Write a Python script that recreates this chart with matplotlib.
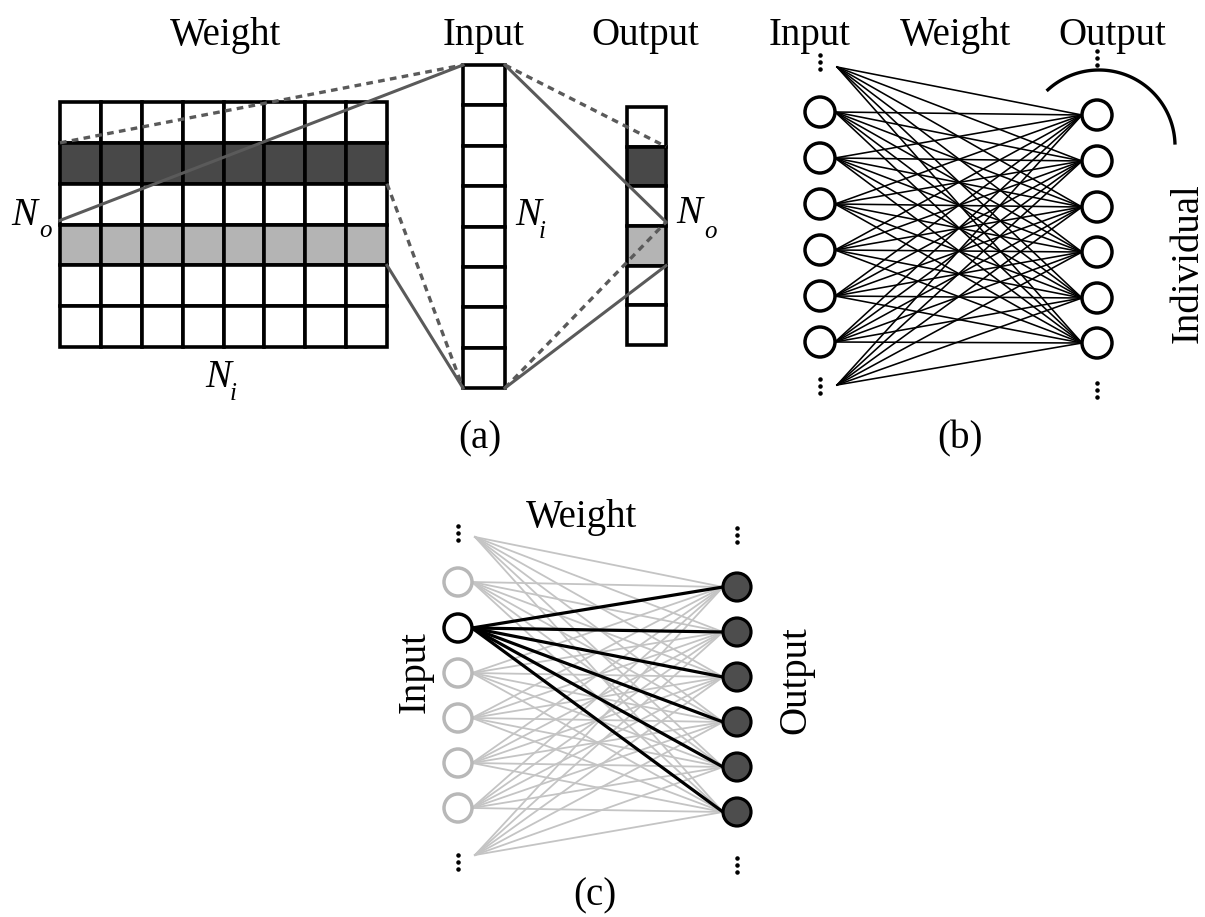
import numpy as np
import matplotlib
matplotlib.use("Agg")
import matplotlib.pyplot as plt
from matplotlib.patches import Rectangle, Circle

# ---------------- data ----------------
# panel (a)
weight_rows = 6
weight_cols = 8
input_cells = 8
output_cells = 6
dark_row = 1
light_row = 3
# panel (b) node centres (pixel rows)
b_input_y = [112, 158, 204, 250, 296, 342]
b_output_y = [115, 161, 207, 252, 298, 343]
b_extra_y = [67, 385]
# panel (c)
c_input_y = [582, 628, 673, 718, 763, 808]
c_output_y = [587, 632, 677, 722, 767, 812]
c_extra_y = [537, 855]
c_active_input = 1

titles_a = ["Weight", "Input", "Output"]
titles_b = ["Input", "Weight", "Output"]
panel_labels = ["(a)", "(b)", "(c)"]

DARK = "#484848"
LIGHT = "#b4b4b4"
LINEG = "#5a5a5a"
FAINT = "#c4c4c4"
SERIF = ["Liberation Serif", "DejaVu Serif"]

fig = plt.figure(figsize=(12.05, 9.17), dpi=100)
ax = fig.add_axes([0, 0, 1, 1])
ax.set_xlim(0, 1205)
ax.set_ylim(917, 0)
ax.axis("off")


def txt(x, y, s, size=28, **kw):
    ax.text(x, y, s, fontsize=size, family=SERIF, **kw)


def vdots(x, y):
    ax.scatter([x, x, x], [y - 7, y, y + 7], s=5, color="black", zorder=5)


# ---------------- panel (a) ----------------
wx0, wx1, wy0, wy1 = 60, 387, 102, 347
cw = (wx1 - wx0) / weight_cols
rh = (wy1 - wy0) / weight_rows
for r in range(weight_rows):
    fc = DARK if r == dark_row else (LIGHT if r == light_row else "white")
    for c in range(weight_cols):
        ax.add_patch(Rectangle((wx0 + c * cw, wy0 + r * rh), cw, rh,
                               facecolor=fc, edgecolor="black", lw=2.6, zorder=2))

ix0, ix1, iy0, iy1 = 463, 505, 65, 388
ih = (iy1 - iy0) / input_cells
for r in range(input_cells):
    ax.add_patch(Rectangle((ix0, iy0 + r * ih), ix1 - ix0, ih,
                           facecolor="white", edgecolor="black", lw=2.6, zorder=2))

ox0, ox1, oy0, oy1 = 627, 666, 107, 345
oh = (oy1 - oy0) / output_cells
for r in range(output_cells):
    fc = DARK if r == dark_row else (LIGHT if r == light_row else "white")
    ax.add_patch(Rectangle((ox0, oy0 + r * oh), ox1 - ox0, oh,
                           facecolor=fc, edgecolor="black", lw=2.6, zorder=2))

dash = (0, (2.0, 1.6))
# weight -> input
ax.plot([wx0, ix0], [wy0 + rh * dark_row, iy0], color=LINEG, lw=2.4, ls=dash, zorder=3)
ax.plot([wx0, ix0], [wy0 + rh * (dark_row + 1.9), iy0], color=LINEG, lw=2.2, zorder=3)
ax.plot([wx1, ix0], [wy0 + rh * (dark_row + 1), iy1], color=LINEG, lw=2.4, ls=dash, zorder=3)
ax.plot([wx1, ix0], [wy0 + rh * (light_row + 1), iy1], color=LINEG, lw=2.2, zorder=3)
# input -> output
ax.plot([ix1, ox1], [iy0, oy0 + oh * dark_row], color=LINEG, lw=2.4, ls=dash, zorder=3)
ax.plot([ix1, ox1], [iy0, oy0 + oh * 3 - 4], color=LINEG, lw=2.2, zorder=3)
ax.plot([ix1, ox1], [iy1, oy0 + oh * 3 - 4], color=LINEG, lw=2.4, ls=dash, zorder=3)
ax.plot([ix1, ox1], [iy1, oy0 + oh * (light_row + 1)], color=LINEG, lw=2.2, zorder=3)

txt(225, 45, titles_a[0], ha="center", va="baseline")
txt(484, 45, titles_a[1], ha="center", va="baseline")
txt(645, 45, titles_a[2], ha="center", va="baseline")

# N labels
def nlab(x, y, sub, sx, sy):
    txt(x, y, "N", size=28, style="italic", ha="left", va="baseline")
    txt(sx, sy, sub, size=18, style="italic", ha="left", va="baseline")

nlab(11, 225, "o", 39, 237)
nlab(205, 387, "i", 230, 400)
nlab(515, 225, "i", 539, 238)
nlab(676, 223, "o", 704, 238)

txt(480, 448, panel_labels[0], ha="center", va="baseline")

# ---------------- panel (b) ----------------
bx_in, bx_out, br = 820, 1097, 15
srcs = [(bx_in + br, y) for y in b_input_y] + [(bx_in + 17, y) for y in b_extra_y]
for sx, sy in srcs:
    for oy in b_output_y:
        ax.plot([sx, bx_out - br], [sy, oy], color="black", lw=1.15, zorder=3)
for y in b_input_y:
    ax.add_patch(Circle((bx_in, y), br, facecolor="white", edgecolor="black", lw=2.5, zorder=4))
for y in b_output_y:
    ax.add_patch(Circle((bx_out, y), br, facecolor="white", edgecolor="black", lw=2.5, zorder=4))
vdots(820, 62)
vdots(820, 386)
vdots(1097, 58)
vdots(1097, 390)

# arc "Individual"
cxa, cya, ra = 1099, 146, 76
th = np.linspace(np.deg2rad(227.7), np.deg2rad(357.7), 100)
ax.plot(cxa + ra * np.cos(th), cya + ra * np.sin(th), color="black", lw=2.4, zorder=3)
txt(1188, 263, "Individual", rotation=90, ha="center", va="center")

txt(810, 45, titles_b[0], ha="center", va="baseline")
txt(955, 45, titles_b[1], ha="center", va="baseline")
txt(1112, 45, titles_b[2], ha="center", va="baseline")
txt(960, 448, panel_labels[1], ha="center", va="baseline")

# ---------------- panel (c) ----------------
cx_in, cx_out, cr = 458, 737, 14
csrcs = [(cx_in + cr, y) for y in c_input_y] + [(cx_in + 17, y) for y in c_extra_y]
for k, (sx, sy) in enumerate(csrcs):
    if k == c_active_input:
        continue
    for oy in c_output_y:
        ax.plot([sx, cx_out - cr], [sy, oy], color=FAINT, lw=1.3, zorder=3)
sx, sy = csrcs[c_active_input]
for oy in c_output_y:
    ax.plot([sx, cx_out - cr], [sy, oy], color="black", lw=2.3, zorder=4)
for k, y in enumerate(c_input_y):
    ec = "black" if k == c_active_input else "#b8b8b8"
    ax.add_patch(Circle((cx_in, y), cr, facecolor="white", edgecolor=ec, lw=2.5, zorder=5))
for y in c_output_y:
    ax.add_patch(Circle((cx_out, y), cr, facecolor="#4d4d4d", edgecolor="black", lw=2.3, zorder=5))
vdots(458, 533)
vdots(458, 862)
vdots(737, 535)
vdots(737, 865)

txt(582, 527, "Weight", ha="center", va="baseline")
txt(415, 672, "Input", rotation=90, ha="center", va="center")
txt(796, 680, "Output", rotation=90, ha="center", va="center")
txt(595, 905, panel_labels[2], ha="center", va="baseline")

fig.savefig("out.png", dpi=100, facecolor="white")
